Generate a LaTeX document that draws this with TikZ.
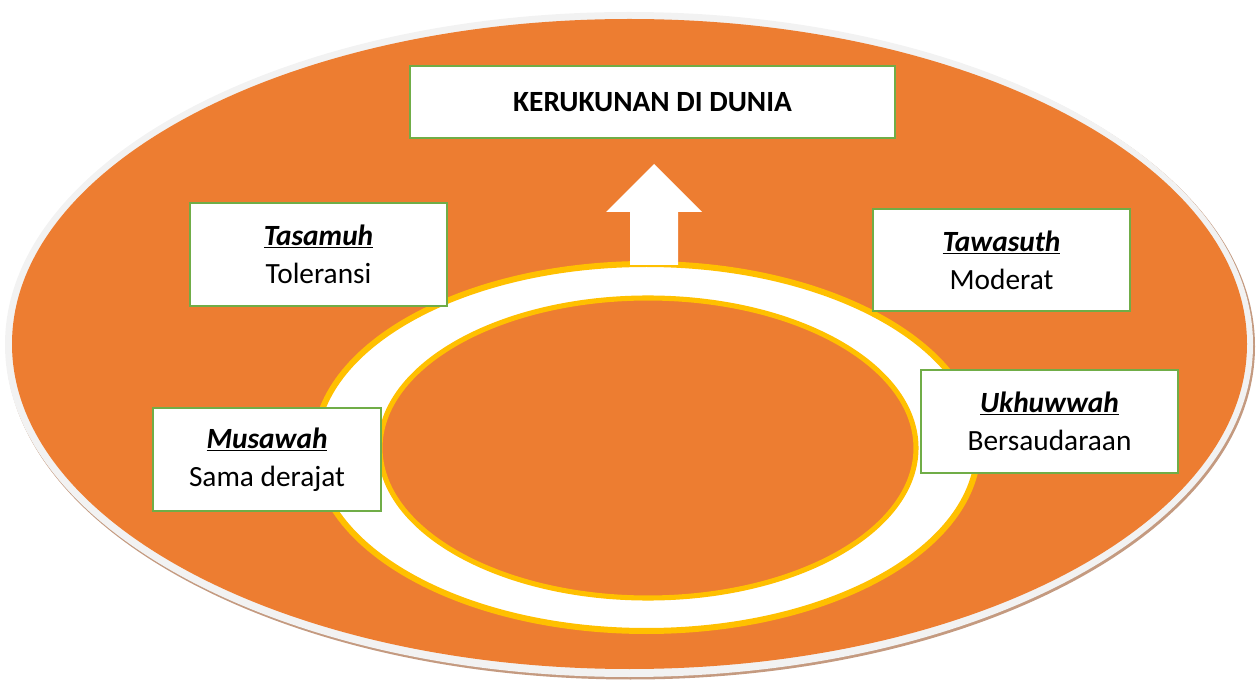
\documentclass[tikz,border=0pt]{standalone}
\usepackage{fontspec}
\setmainfont{Carlito}
\usetikzlibrary{positioning}

\definecolor{oranye}{HTML}{ED7D31}
\definecolor{kuning}{HTML}{FFC000}
\definecolor{hijau}{HTML}{70AD47}
\definecolor{abu}{HTML}{F2F2F2}
\definecolor{bayang}{HTML}{C49A80}

\begin{document}
\begin{tikzpicture}[x=0.75pt,y=-0.75pt,
    kotak/.style={draw=hijau,line width=1.6pt,fill=white,align=center,inner sep=0pt,
        minimum height=77pt,font=\fontsize{22}{28.5}\selectfont}]

\useasboundingbox (0,0) rectangle (1258,684);

% latar: elips besar
\fill [bayang] (630.5,346.5) ellipse [x radius=624.5, y radius=333];
\fill [abu] (629,344.5) ellipse [x radius=624, y radius=332.5];
\fill [oranye] (629.5,344) ellipse [x radius=617.5, y radius=325];

% cincin
\filldraw [fill=white, draw=kuning, line width=4.5pt] (646.5,447.5) ellipse [x radius=331.5, y radius=183.5];
\filldraw [fill=oranye, draw=kuning, line width=3.8pt] (648,448) ellipse [x radius=268, y radius=150];

% panah
\coordinate (p0) at (654,164);
\coordinate (p1) at (702,212);
\coordinate (p2) at (678,212);
\coordinate (p3) at (678,265);
\coordinate (p4) at (630,265);
\coordinate (p5) at (630,212);
\coordinate (p6) at (606,212);
\fill [white] (p0) -- (p1) -- (p2) -- (p3) -- (p4) -- (p5) -- (p6) -- cycle;

\node [kotak, minimum width=363.75pt, minimum height=54pt, font=\fontsize{22}{26}\selectfont\bfseries]
    (kerukunan) at (652.5,102) {KERUKUNAN DI DUNIA};

\foreach \n/\x/\y/\w/\a/\b in {
    tasamuh/318.5/254.5/192.75/Tasamuh/Toleransi,
    tawasuth/1001.5/260/192.75/Tawasuth/Moderat,
    ukhuwwah/1049.5/421.5/192.75/Ukhuwwah/Bersaudaraan,
    musawah/267/459.5/171/Musawah/Sama derajat}
    \node [kotak, minimum width=\w pt] (\n) at (\x,\y) {\underline{\textbf{\textit{\a}}}\\\b};

%\node at (648,448) {};

\end{tikzpicture}
\end{document}
